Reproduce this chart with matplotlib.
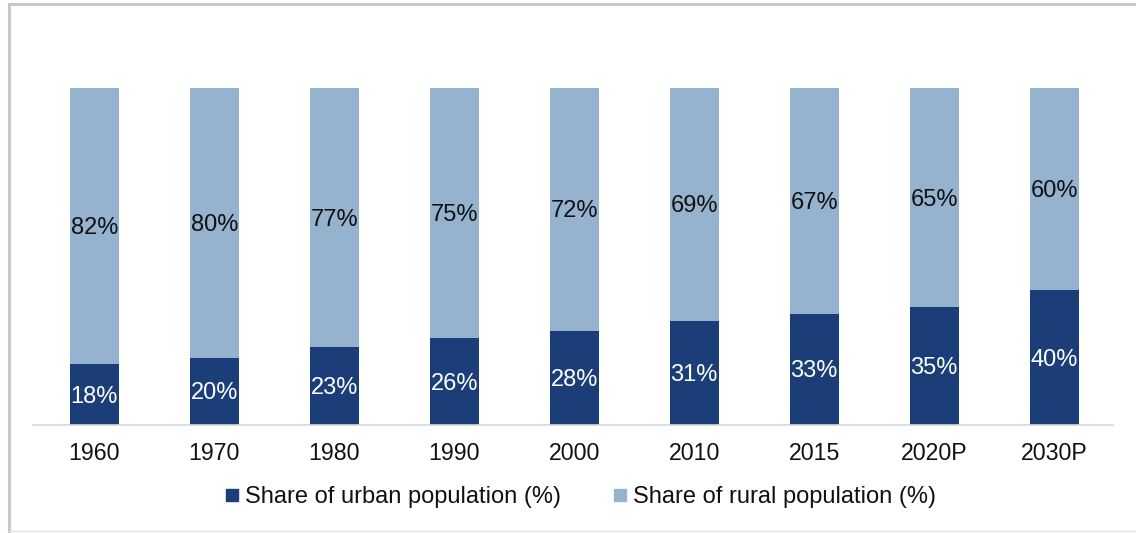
import matplotlib
matplotlib.use("Agg")
import matplotlib.pyplot as plt
from matplotlib.lines import Line2D
import numpy as np

plt.rcParams['font.family'] = ['Liberation Sans', 'DejaVu Sans']

years = ["1960", "1970", "1980", "1990", "2000", "2010", "2015", "2020P", "2030P"]
urban = [18, 20, 23, 26, 28, 31, 33, 35, 40]
rural = [82, 80, 77, 75, 72, 69, 67, 65, 60]

urban_color = "#1B3D78"
rural_color = "#95B3CF"

fig = plt.figure(figsize=(11.36, 5.33), dpi=100)
ax = fig.add_axes([33/1136, 108/533, 1080/1136, 337/533])

x = np.arange(len(years))
u = np.array(urban, float)
r = np.array(rural, float)
tot = u + r
u_h = u / tot * 100
r_h = r / tot * 100
w = 0.41
ax.bar(x, u_h, width=w, color=urban_color, zorder=2)
ax.bar(x, r_h, width=w, bottom=u_h, color=rural_color, zorder=2)

for i in range(len(years)):
    ax.text(x[i], u_h[i] / 2 - 0.6, f"{urban[i]}%", ha='center', va='center',
            color='white', fontsize=17)
    ax.text(x[i], u_h[i] + r_h[i] / 2 - 0.6, f"{rural[i]}%", ha='center', va='center',
            color='#111111', fontsize=17)

ax.set_xlim(-0.51, 8.49)
ax.set_ylim(0, 100)
ax.set_xticks(x)
ax.set_xticklabels(years, fontsize=16.7, color='#111111')
ax.tick_params(axis='x', length=0, pad=12.5)
ax.set_yticks([])
for s in ['top', 'right', 'left']:
    ax.spines[s].set_visible(False)
ax.spines['bottom'].set_color('#d9d9d9')
ax.spines['bottom'].set_linewidth(1.2)
ax.set_facecolor('none')

handles = [
    Line2D([], [], marker='s', linestyle='none', markersize=9,
           markerfacecolor=urban_color, markeredgecolor=urban_color,
           label="Share of urban population (%)"),
    Line2D([], [], marker='s', linestyle='none', markersize=9,
           markerfacecolor=rural_color, markeredgecolor=rural_color,
           label="Share of rural population (%)"),
]
fig.legend(handles=handles, loc='center', bbox_to_anchor=(580/1136, 1 - 497/533),
           ncol=2, frameon=False, fontsize=17, handlelength=0.6,
           handletextpad=0.25, columnspacing=2.2, labelcolor='#111111')

# outer frame
fig.add_artist(Line2D([9/1136, 1.0], [1 - 4/533] * 2, color='#c8c8c8', lw=2.2,
                      transform=fig.transFigure))
fig.add_artist(Line2D([9/1136] * 2, [1 - 4/533, 0], color='#c8c8c8', lw=2.2,
                      transform=fig.transFigure))
fig.add_artist(Line2D([9/1136, 1.0], [2/533] * 2, color='#e0e0e0', lw=1,
                      transform=fig.transFigure))

fig.savefig("out.png", dpi=100)
